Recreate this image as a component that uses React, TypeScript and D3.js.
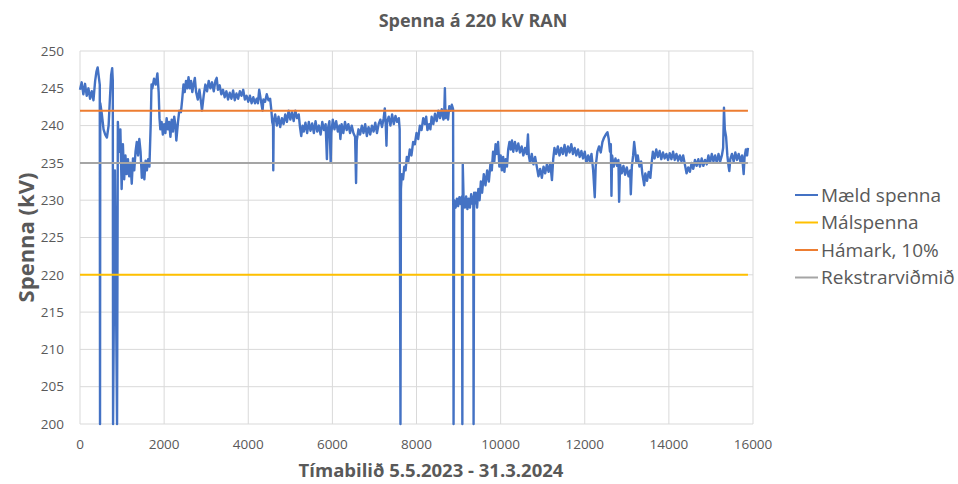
import * as d3 from "d3";
import React, { useEffect, useRef } from "react";

// legend order = drawing order in the original workbook
const seriesNames = ["Mæld spenna", "Málspenna", "Hámark, 10%", "Rekstrarviðmið"];
const seriesColors = ["#4472C4", "#FFC000", "#ED7D31", "#A5A5A5"];

// reference levels (kV)
const nominalKv = 220;
const maxKv = 242;
const operatingKv = 235;

const xTicks = [0, 2000, 4000, 6000, 8000, 10000, 12000, 14000, 16000];
const yTicks = [200, 205, 210, 215, 220, 225, 230, 235, 240, 245, 250];

const measured: [number, number][] = [
    [0, 244.8], [40, 245.8], [80, 244.2], [120, 245.6], [160, 244.0], [200, 245.0], [240, 243.6],
    [280, 244.6], [320, 243.4], [360, 246.0], [390, 247.2], [420, 247.8], [450, 246.4], [470, 245.5],
    [476, 200], [482, 243.0], [520, 241.5], [560, 239.5], [600, 238.8], [640, 238.4], [680, 240.0],
    [710, 243.5], [740, 246.8], [765, 247.7], [780, 246.0], [786, 200], [830, 234.0], [881, 200],
    [900, 240.5], [930, 236.5], [960, 239.5], [990, 231.5], [1020, 237.5], [1050, 232.8], [1080, 236.0],
    [1110, 233.5], [1140, 235.5], [1170, 233.2], [1200, 235.0], [1230, 232.2], [1260, 235.6], [1290, 234.0],
    [1320, 236.5], [1350, 237.8], [1380, 236.0], [1410, 238.2], [1440, 236.5], [1470, 233.0], [1500, 235.0],
    [1530, 232.8], [1560, 235.3], [1590, 234.0], [1620, 235.5], [1650, 234.5], [1680, 240.0], [1700, 245.5],
    [1720, 245.0], [1760, 246.3], [1800, 245.5], [1840, 247.0], [1870, 244.5], [1890, 241.0], [1910, 239.5],
    [1940, 240.5], [1970, 238.8], [2000, 240.2], [2030, 239.0], [2060, 241.0], [2090, 239.5], [2120, 240.5],
    [2150, 238.5], [2180, 240.8], [2210, 239.2], [2240, 241.2], [2270, 240.0], [2290, 238.0], [2330, 240.5],
    [2360, 242.0], [2400, 241.8], [2430, 243.5], [2460, 245.5], [2490, 244.5], [2520, 246.0], [2550, 245.0],
    [2580, 246.5], [2610, 245.0], [2640, 246.0], [2670, 244.5], [2700, 245.5], [2730, 246.4], [2760, 244.5],
    [2800, 243.5], [2840, 244.8], [2880, 243.0], [2900, 242.0], [2940, 244.0], [2980, 245.5], [3020, 244.6],
    [3060, 246.0], [3100, 245.0], [3140, 245.8], [3180, 244.6], [3220, 246.0], [3250, 246.4], [3280, 244.8],
    [3320, 245.4], [3360, 244.2], [3400, 244.8], [3440, 243.8], [3480, 244.6], [3520, 243.5], [3560, 244.4],
    [3600, 243.6], [3640, 244.7], [3680, 243.4], [3720, 244.3], [3760, 243.6], [3800, 244.6], [3840, 244.0],
    [3880, 244.8], [3920, 243.5], [3960, 244.0], [4000, 243.2], [4040, 244.0], [4080, 243.0], [4120, 243.8],
    [4160, 243.0], [4200, 243.6], [4230, 243.0], [4260, 244.8], [4300, 243.4], [4340, 242.0], [4360, 243.5],
    [4400, 243.2], [4440, 244.2], [4480, 243.4], [4520, 243.6], [4550, 242.0], [4570, 240.5], [4590, 240.0],
    [4595, 234.0], [4605, 240.5], [4640, 241.5], [4680, 240.0], [4720, 241.2], [4760, 239.8], [4800, 241.0],
    [4840, 240.2], [4880, 241.5], [4920, 240.5], [4960, 242.0], [5000, 240.8], [5040, 241.8], [5080, 240.6],
    [5120, 242.0], [5160, 241.0], [5200, 241.5], [5230, 239.8], [5260, 238.6], [5290, 240.0], [5320, 239.2],
    [5360, 240.4], [5400, 239.0], [5440, 240.5], [5480, 239.3], [5520, 240.3], [5560, 239.0], [5600, 240.6],
    [5640, 239.2], [5680, 240.0], [5720, 238.8], [5760, 240.5], [5800, 239.4], [5840, 240.2], [5870, 235.5],
    [5890, 239.5], [5930, 240.6], [5960, 235.0], [5975, 239.0], [6010, 240.8], [6050, 239.5], [6090, 240.6],
    [6130, 239.2], [6170, 240.0], [6190, 238.2], [6220, 240.2], [6260, 239.0], [6300, 240.5], [6340, 239.4],
    [6380, 240.2], [6420, 239.0], [6460, 240.0], [6500, 239.0], [6540, 238.5], [6563, 232.3], [6580, 238.0],
    [6620, 239.5], [6660, 238.8], [6700, 240.0], [6740, 239.0], [6780, 240.2], [6820, 238.6], [6860, 239.8],
    [6900, 238.8], [6940, 240.0], [6980, 239.2], [7020, 240.4], [7060, 239.0], [7100, 240.2], [7140, 240.8],
    [7180, 239.8], [7220, 241.0], [7246, 242.3], [7270, 240.0], [7286, 237.3], [7300, 240.5], [7340, 241.2],
    [7380, 240.0], [7420, 241.5], [7460, 240.2], [7500, 241.3], [7540, 240.5], [7580, 241.0], [7600, 239.5],
    [7619, 200], [7630, 231.5], [7650, 233.5], [7680, 232.8], [7710, 234.5], [7740, 234.0], [7770, 235.8],
    [7800, 235.0], [7840, 236.8], [7880, 236.0], [7920, 237.8], [7960, 237.5], [8000, 239.0], [8040, 238.2],
    [8080, 240.0], [8120, 239.4], [8160, 241.0], [8200, 240.2], [8230, 241.2], [8260, 239.4], [8300, 240.2],
    [8330, 239.5], [8360, 241.2], [8400, 240.2], [8440, 241.6], [8480, 240.6], [8520, 242.0], [8560, 241.0],
    [8600, 242.2], [8640, 240.8], [8660, 241.8], [8675, 245.0], [8690, 241.0], [8720, 242.0], [8750, 240.8],
    [8780, 242.6], [8810, 242.0], [8840, 242.8], [8870, 242.2], [8881, 200], [8895, 230.0], [8930, 229.0],
    [8960, 230.2], [8990, 229.2], [9020, 230.4], [9050, 229.5], [9080, 230.5], [9090, 200], [9100, 234.8],
    [9120, 230.0], [9150, 229.0], [9180, 230.5], [9210, 228.8], [9240, 230.2], [9270, 229.0], [9300, 230.8],
    [9330, 229.5], [9350, 230.5], [9357, 200], [9370, 231.0], [9380, 229.5], [9410, 231.0], [9440, 229.0],
    [9470, 231.5], [9500, 230.0], [9530, 232.5], [9560, 231.0], [9600, 233.5], [9640, 232.0], [9680, 234.0],
    [9720, 232.5], [9760, 235.0], [9790, 234.0], [9820, 236.5], [9850, 235.2], [9880, 237.5], [9910, 236.2],
    [9940, 237.8], [9970, 234.5], [10000, 236.0], [10030, 234.0], [10060, 235.8], [10090, 233.8], [10120, 235.5],
    [10150, 234.5], [10180, 236.8], [10210, 237.8], [10240, 236.8], [10270, 238.0], [10300, 236.5], [10340, 237.8],
    [10380, 236.6], [10420, 237.6], [10460, 236.4], [10500, 237.2], [10540, 236.0], [10580, 237.0], [10620, 236.2],
    [10650, 238.8], [10670, 236.0], [10700, 235.0], [10740, 236.2], [10780, 234.8], [10820, 235.8], [10860, 234.5],
    [10900, 233.2], [10940, 234.2], [10980, 233.0], [11020, 234.5], [11060, 233.6], [11100, 234.8], [11140, 233.8],
    [11180, 235.0], [11220, 232.7], [11250, 235.5], [11280, 237.0], [11320, 236.2], [11360, 237.2], [11400, 236.0],
    [11440, 237.0], [11480, 236.2], [11520, 237.4], [11560, 236.0], [11600, 237.2], [11640, 236.4], [11680, 237.5],
    [11720, 236.2], [11760, 237.0], [11800, 236.0], [11840, 236.8], [11880, 235.8], [11920, 236.6], [11960, 235.6],
    [12000, 236.5], [12040, 235.0], [12080, 236.0], [12120, 235.2], [12160, 236.2], [12200, 234.0], [12238, 230.4],
    [12260, 234.5], [12300, 236.5], [12340, 237.2], [12380, 236.4], [12420, 237.8], [12460, 238.4], [12500, 238.8],
    [12540, 239.1], [12570, 238.2], [12600, 236.5], [12620, 237.5], [12635, 230.6], [12650, 236.0], [12690, 234.5],
    [12730, 235.6], [12770, 234.6], [12800, 235.4], [12817, 229.8], [12840, 234.8], [12880, 233.6], [12920, 234.6],
    [12960, 233.4], [13000, 234.4], [13040, 233.2], [13080, 234.0], [13095, 230.8], [13120, 234.5], [13150, 236.0],
    [13175, 237.8], [13200, 236.5], [13230, 235.0], [13260, 236.0], [13300, 234.5], [13340, 235.2], [13370, 233.5],
    [13400, 232.5], [13413, 232.0], [13440, 233.6], [13480, 232.6], [13520, 233.8], [13560, 233.0], [13590, 235.0],
    [13620, 236.5], [13660, 235.6], [13700, 236.8], [13740, 235.8], [13780, 236.6], [13820, 235.5], [13860, 236.4],
    [13900, 235.6], [13940, 236.2], [13980, 235.4], [14020, 236.3], [14060, 235.5], [14100, 236.5], [14140, 235.4],
    [14180, 236.2], [14220, 235.3], [14260, 236.0], [14300, 235.2], [14340, 236.0], [14380, 234.8], [14420, 233.6],
    [14460, 234.4], [14500, 233.8], [14540, 235.0], [14580, 234.2], [14620, 235.4], [14660, 234.6], [14700, 235.5],
    [14740, 234.5], [14780, 235.6], [14820, 234.6], [14860, 235.4], [14900, 234.8], [14940, 236.0], [14980, 235.0],
    [15020, 236.2], [15060, 235.2], [15100, 236.0], [15140, 235.0], [15180, 236.2], [15220, 235.2], [15260, 236.0],
    [15290, 237.0], [15310, 242.4], [15330, 239.5], [15360, 238.5], [15390, 236.0], [15420, 234.5], [15437, 233.9],
    [15460, 235.5], [15500, 236.2], [15540, 235.2], [15580, 236.4], [15620, 235.4], [15660, 236.2], [15700, 235.2],
    [15740, 236.0], [15778, 233.5], [15800, 235.8], [15830, 236.8], [15860, 236.0], [15880, 237.0],
];

const App = () => {
    const svgRef = useRef<SVGSVGElement>(null);

    useEffect(() => {
        const svg = d3.select(svgRef.current);
        svg.selectAll("*").remove();

        const width = 958;
        const height = 484;
        const margin = { top: 51, right: 205, bottom: 60, left: 80 };
        const font = "'Open Sans', sans-serif";
        const textColor = "#595959";

        const x = d3.scaleLinear().domain([0, 16000]).range([margin.left, width - margin.right]);
        const y = d3.scaleLinear().domain([200, 250]).range([height - margin.bottom, margin.top]);

        svg.append("rect").attr("width", width).attr("height", height).attr("fill", "#fff");

        // gridlines
        svg.append("g")
            .selectAll("line")
            .data(yTicks)
            .join("line")
            .attr("x1", x(0)).attr("x2", x(16000))
            .attr("y1", d => y(d)).attr("y2", d => y(d))
            .attr("stroke", "#D9D9D9").attr("stroke-width", 1);
        svg.append("g")
            .selectAll("line")
            .data(xTicks)
            .join("line")
            .attr("x1", d => x(d)).attr("x2", d => x(d))
            .attr("y1", y(200)).attr("y2", y(250))
            .attr("stroke", "#D9D9D9").attr("stroke-width", 1);

        // tick labels
        svg.append("g")
            .selectAll("text")
            .data(yTicks)
            .join("text")
            .attr("x", margin.left - 16)
            .attr("y", d => y(d))
            .attr("dy", "0.35em")
            .attr("text-anchor", "end")
            .attr("font-family", font).attr("font-size", 13.5).attr("fill", textColor)
            .text(d => d);
        svg.append("g")
            .selectAll("text")
            .data(xTicks)
            .join("text")
            .attr("x", d => x(d))
            .attr("y", y(200) + 25)
            .attr("text-anchor", "middle")
            .attr("font-family", font).attr("font-size", 13.5).attr("fill", textColor)
            .text(d => d);

        // measured series
        const line = d3.line<[number, number]>()
            .x(d => x(d[0]))
            .y(d => y(d[1]));
        svg.append("path")
            .datum(measured)
            .attr("d", line)
            .attr("fill", "none")
            .attr("stroke", seriesColors[0])
            .attr("stroke-width", 2.4)
            .attr("stroke-linejoin", "round");

        // reference levels drawn over the same x span as the measurements
        const lastX = measured[measured.length - 1][0];
        [nominalKv, maxKv, operatingKv].forEach((v, i) => {
            svg.append("line")
                .attr("x1", x(0)).attr("x2", x(lastX))
                .attr("y1", y(v)).attr("y2", y(v))
                .attr("stroke", seriesColors[i + 1])
                .attr("stroke-width", 2);
        });

        // titles
        svg.append("text")
            .attr("x", 473).attr("y", 27)
            .attr("text-anchor", "middle")
            .attr("font-family", font).attr("font-size", 18).attr("font-weight", 700)
            .attr("fill", textColor)
            .text("Spenna á 220 kV RAN");
        svg.append("text")
            .attr("transform", `translate(34,${(y(200) + y(250)) / 2}) rotate(-90)`)
            .attr("text-anchor", "middle")
            .attr("font-family", font).attr("font-size", 22).attr("font-weight", 700)
            .attr("fill", textColor)
            .text("Spenna (kV)");
        svg.append("text")
            .attr("x", 431).attr("y", 477)
            .attr("text-anchor", "middle")
            .attr("font-family", font).attr("font-size", 18.5).attr("font-weight", 700)
            .attr("fill", textColor)
            .text("Tímabilið 5.5.2023 - 31.3.2024");

        // legend
        const legend = svg.append("g").attr("transform", "translate(795,195)");
        seriesNames.forEach((name, i) => {
            const row = legend.append("g").attr("transform", `translate(0,${i * 27.5})`);
            row.append("line")
                .attr("x1", 0).attr("x2", 23)
                .attr("stroke", seriesColors[i]).attr("stroke-width", 2);
            row.append("text")
                .attr("x", 26).attr("dy", "0.35em")
                .attr("font-family", font).attr("font-size", 19).attr("fill", textColor)
                .text(name);
        });
    }, []);

    return (
        <svg
            ref={svgRef}
            width={958}
            height={484}
            style={{ position: "absolute", left: 0, top: 0, display: "block" }}
        />
    );
};

export default App;
